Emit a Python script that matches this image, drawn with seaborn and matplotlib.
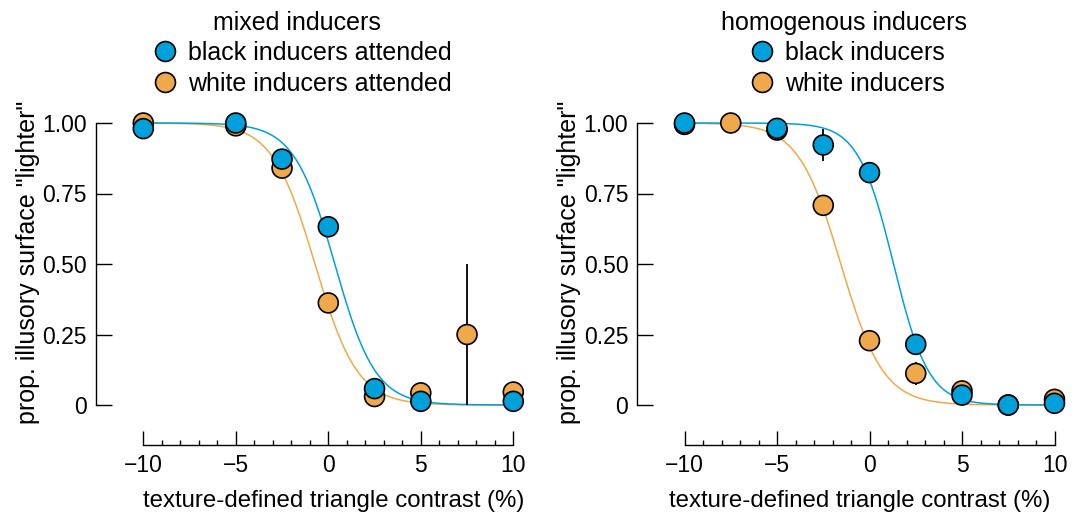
import numpy as np
import pandas as pd
import matplotlib
matplotlib.use("Agg")
import matplotlib.pyplot as plt
import seaborn as sns
from matplotlib.ticker import MultipleLocator, FixedLocator

sns.set_theme(style="ticks")
plt.rcParams['font.family'] = ['Liberation Sans', 'DejaVu Sans']
plt.rcParams['text.color'] = 'black'
plt.rcParams['axes.labelcolor'] = 'black'
plt.rcParams['legend.labelcolor'] = 'black'

# ---------------- data ----------------
contrast = [-10, -7.5, -5, -2.5, 0, 2.5, 5, 7.5, 10]

# mixed inducers (None = not shown)
mixed_black = [0.98, None, 1.00, 0.872, 0.632, 0.058, 0.013, None, 0.013]
mixed_white = [1.00, None, 0.99, 0.840, 0.362, 0.030, 0.043, 0.250, 0.046]
mixed_black_err = [0, 0, 0, 0, 0, 0, 0, 0, 0]
mixed_white_err = [0, 0, 0, 0, 0, 0, 0, 0.25, 0]

# homogenous inducers
homo_black = [1.00, None, 0.981, 0.922, 0.824, 0.215, 0.035, 0.0, 0.006]
homo_white = [0.995, 1.00, 0.975, 0.708, 0.228, 0.112, 0.050, 0.0, 0.020]
homo_black_err = [0, 0, 0, 0.056, 0, 0, 0, 0, 0]
homo_white_err = [0, 0, 0, 0.037, 0, 0.042, 0, 0, 0]

# fitted psychometric functions (logistic: midpoint, spread)
mixed_black_fit = (0.35, 1.10)
mixed_white_fit = (-0.72, 1.15)
homo_black_fit = (1.30, 0.95)
homo_white_fit = (-1.55, 1.15)

panel_titles = ["mixed inducers", "homogenous inducers"]
mixed_labels = ["black inducers attended", "white inducers attended"]
homo_labels = ["black inducers", "white inducers"]
x_ticks = [-10, -5, 0, 5, 10]
x_ticklabels = ["\u221210", "\u22125", "0", "5", "10"]
y_ticks = [0, 0.25, 0.5, 0.75, 1.0]
y_ticklabels = ["0", "0.25", "0.50", "0.75", "1.00"]
x_label = "texture-defined triangle contrast (%)"
y_label = 'prop. illusory surface "lighter"'

BLUE = "#00A0DA"
ORANGE = "#EFA94A"
FS_TICK = 16.5
FS_XLAB = 17.3
FS_YLAB = 18.0
FS_LEG = 18

fig = plt.figure(figsize=(10.83, 5.17), dpi=100)
W, H = 1083, 517


def make_axes(left_px):
    # x range -10.6..10.6 at 18.5 px/unit, y range -0.04..1.04 at 282 px/unit
    width = 21.2 * 18.5
    top = 123 - 0.04 * 282
    height = 1.08 * 282
    return fig.add_axes([left_px / W, (H - (top + height)) / H, width / W, height / H])


def logistic(x, mu, s):
    return 1.0 / (1.0 + np.exp((x - mu) / s))


def draw_panel(ax, black, white, black_err, white_err, black_fit, white_fit,
               labels, title, legend_x, title_x, xlabel_x):
    xs = np.linspace(-10, 10, 400)
    curves = pd.concat([
        pd.DataFrame({"x": xs, "y": logistic(xs, *white_fit), "cond": labels[1]}),
        pd.DataFrame({"x": xs, "y": logistic(xs, *black_fit), "cond": labels[0]}),
    ])
    pal = {labels[0]: BLUE, labels[1]: ORANGE}
    sns.lineplot(data=curves, x="x", y="y", hue="cond", palette=pal, ax=ax,
                 legend=False, linewidth=1.1, zorder=1)

    rows = []
    for lab, vals, errs in [(labels[1], white, white_err), (labels[0], black, black_err)]:
        for xv, yv, ev in zip(contrast, vals, errs):
            if yv is not None:
                rows.append({"x": xv, "y": yv, "err": ev, "cond": lab})
    pts = pd.DataFrame(rows)

    eb = pts[pts["err"] > 0]
    ax.vlines(eb["x"], eb["y"] - eb["err"], eb["y"] + eb["err"], color="black",
              linewidth=1.3, zorder=2)

    sns.scatterplot(data=pts, x="x", y="y", hue="cond", hue_order=labels,
                    palette=pal, s=205, edgecolor="black", linewidth=1.2,
                    ax=ax, zorder=3, clip_on=False)

    ax.set_xlim(-10.6, 10.6)
    ax.set_ylim(-0.04, 1.04)
    sns.despine(ax=ax)
    ax.spines["left"].set_position(("outward", 26))
    ax.spines["bottom"].set_position(("outward", 20.5))
    ax.spines["left"].set_bounds(0, 1)
    ax.spines["bottom"].set_bounds(-10, 10)
    for sp in ["left", "bottom"]:
        ax.spines[sp].set_linewidth(1.0)
        ax.spines[sp].set_color("black")

    ax.xaxis.set_major_locator(FixedLocator(x_ticks))
    ax.set_xticklabels(x_ticklabels)
    ax.xaxis.set_minor_locator(MultipleLocator(1))
    ax.yaxis.set_major_locator(FixedLocator(y_ticks))
    ax.set_yticklabels(y_ticklabels)
    ax.tick_params(axis="x", which="major", direction="in", length=10, width=1.0,
                   pad=7.0, labelsize=FS_TICK, colors="black")
    ax.tick_params(axis="x", which="minor", direction="in", length=3.3, width=1.0,
                   colors="black")
    ax.tick_params(axis="y", which="major", direction="in", length=11.5, width=1.0,
                   pad=6.5, labelsize=FS_TICK, colors="black")

    ax.set_xlabel(x_label, fontsize=FS_XLAB, color="black")
    ax.xaxis.set_label_coords(xlabel_x, -0.241)
    ax.set_ylabel(y_label, fontsize=FS_YLAB, color="black")
    ax.yaxis.label.set_va("center")
    ax.yaxis.set_label_coords(-0.266, 0.507)

    sns.move_legend(ax, "lower center", bbox_to_anchor=(legend_x, 0.994),
                    frameon=False, title=None, fontsize=FS_LEG,
                    handletextpad=0.45, labelspacing=0.3, borderpad=0.2,
                    handlelength=1.0, markerscale=1.0, labelcolor="black")
    # heading of the legend group
    fig.text(title_x / W, 1 - 23 / H, title, fontsize=FS_LEG, color="black",
             ha="center", va="center")
    ax.set_facecolor("white")


ax1 = make_axes(132.2)
ax2 = make_axes(673.4)
draw_panel(ax1, mixed_black, mixed_white, mixed_black_err, mixed_white_err,
           mixed_black_fit, mixed_white_fit, mixed_labels, panel_titles[0],
           0.433, 297, 0.513)
draw_panel(ax2, homo_black, homo_white, homo_black_err, homo_white_err,
           homo_black_fit, homo_white_fit, homo_labels, panel_titles[1],
           0.443, 844, 0.474)

fig.savefig("out.png", dpi=100, facecolor="white")
